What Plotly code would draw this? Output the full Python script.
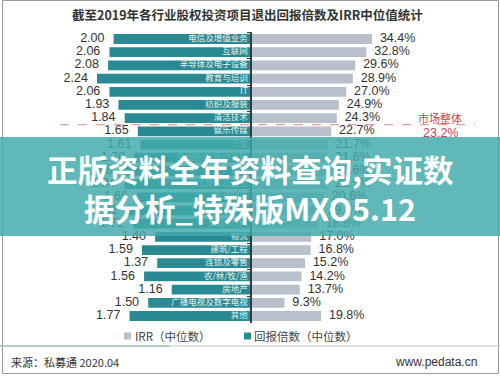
import plotly.graph_objects as go

# ---------------- data ----------------
industries = [
    "电信及增值业务", "互联网", "半导体及电子设备", "教育与培训", "IT", "纺织及服装", "清洁技术",
    "娱乐传媒", "汽车", "生物技术/医疗健康", "金融", "化工原料及加工", "机械制造", "能源及矿产",
    "食品&饮料", "物流", "建筑/工程", "连锁及零售", "农/林/牧/渔", "房地产", "广播电视及数字电视", "其他",
]
return_multiple = [2.00, 2.06, 2.08, 2.24, 2.06, 1.93, 1.84,
                   1.65, 1.61, 1.70, 1.88, 1.84, 1.66, 1.81,
                   1.72, 1.40, 1.59, 1.37, 1.56, 1.16, 1.50, 1.77]
irr = [34.4, 32.8, 29.6, 28.9, 27.0, 24.9, 24.3,
       22.7, 21.7, 21.6, 21.6, 21.5, 20.6, 19.4,
       18.8, 17.0, 16.8, 15.2, 14.2, 13.7, 9.3, 19.8]
market_irr = 23.2
market_after_index = 6  # market line sits after this row

TITLE = "截至2019年各行业股权投资项目退出回报倍数及IRR中位值统计"
SOURCE = "来源：私募通 2020.04"
SITE = "www.pedata.cn"
WM1 = "正版资料全年资料查询,实证数"
WM2 = "据分析_特殊版MXO5.12"

# ---------------- style ----------------
W, H = 500, 377
TEAL = "#2a8a93"
GRAY = "#b8c0cc"
CJK = "Noto Sans CJK SC"
LAT = "Liberation Sans, Arial, sans-serif"

axis_px = 252
left_px0 = 40
right_px1 = 490
px_per_mult = 69.2
px_per_pct = 3.49
row_top, row_bottom = 32.4, 322.6
n = len(industries)

fig = go.Figure()

fig.add_trace(go.Bar(
    y=industries, x=return_multiple, orientation="h",
    marker=dict(color=TEAL, line=dict(width=0)),
    xaxis="x", yaxis="y", name="回报倍数（中位数）", showlegend=False,
))
fig.add_trace(go.Bar(
    y=industries, x=irr, orientation="h",
    marker=dict(color=GRAY, line=dict(width=0)),
    xaxis="x2", yaxis="y", name="IRR（中位数）", showlegend=False,
))
# value labels left
fig.add_trace(go.Scatter(
    y=industries, x=return_multiple, mode="markers+text",
    text=[f"{v:.2f}" for v in return_multiple], textposition="middle left",
    marker=dict(size=13, color="rgba(0,0,0,0)"),
    textfont=dict(family=LAT, size=12.5, color="#333333"),
    xaxis="x", yaxis="y", cliponaxis=False, showlegend=False, hoverinfo="skip",
))
# value labels right
fig.add_trace(go.Scatter(
    y=industries, x=irr, mode="markers+text",
    text=[f"{v:.1f}%" for v in irr], textposition="middle right",
    marker=dict(size=11, color="rgba(0,0,0,0)"),
    textfont=dict(family=LAT, size=12.5, color="#333333"),
    xaxis="x2", yaxis="y", cliponaxis=False, showlegend=False, hoverinfo="skip",
))
# category labels inside left bars
fig.add_trace(go.Scatter(
    y=industries, x=[0] * n, mode="markers+text",
    text=industries, textposition="middle left",
    marker=dict(size=5, color="rgba(0,0,0,0)"),
    textfont=dict(family=CJK, size=8.5, color="#e3f1f1"),
    xaxis="x", yaxis="y", cliponaxis=False, showlegend=False, hoverinfo="skip",
))

shapes = []
# market dashed line
shapes.append(dict(type="line", xref="paper", yref="y", x0=60 / W, x1=475 / W,
                   y0=market_after_index + 0.5, y1=market_after_index + 0.5,
                   line=dict(color="#d98a8a", width=1, dash="dash"), layer="above"))
# frame border
shapes.append(dict(type="rect", xref="paper", yref="paper", x0=2.5 / W, x1=498.5 / W,
                   y0=1 - 373.5 / H, y1=1 - 0.5 / H, line=dict(color="#9a9a9a", width=1),
                   fillcolor="rgba(0,0,0,0)", layer="above"))
# footer separator
shapes.append(dict(type="line", xref="paper", yref="paper", x0=0, x1=1,
                   y0=1 - 346 / H, y1=1 - 346 / H, line=dict(color="#c4c4c4", width=1), layer="above"))
shapes.append(dict(type="line", xref="paper", yref="paper", x0=0, x1=170 / W,
                   y0=1 - 346 / H, y1=1 - 346 / H, line=dict(color="#86b6ba", width=1), layer="above"))
# legend swatches
shapes.append(dict(type="rect", xref="paper", yref="paper", x0=124 / W, x1=131 / W,
                   y0=1 - 339.5 / H, y1=1 - 332.5 / H, fillcolor=GRAY, line=dict(width=0), layer="above"))
shapes.append(dict(type="rect", xref="paper", yref="paper", x0=244 / W, x1=251 / W,
                   y0=1 - 339.5 / H, y1=1 - 332.5 / H, fillcolor=TEAL, line=dict(width=0), layer="above"))
# watermark band
shapes.append(dict(type="rect", xref="paper", yref="paper", x0=0, x1=1,
                   y0=1 - 236 / H, y1=1 - 137 / H, fillcolor="rgba(66,170,170,0.84)",
                   line=dict(width=0), layer="above"))

annotations = [
    dict(text=f"<b>{TITLE}</b>", xref="paper", yref="paper", x=247 / W, y=1 - 15 / H,
         xanchor="center", yanchor="middle", showarrow=False,
         font=dict(family=CJK, size=12.5, color="#333333")),
    dict(text="市场整体", xref="paper", yref="paper", x=440 / W, y=1 - 117.5 / H,
         xanchor="center", yanchor="middle", showarrow=False,
         font=dict(family=CJK, size=11, color="#cc4455")),
    dict(text=f"{market_irr:.1f}%", xref="paper", yref="paper", x=440 / W, y=1 - 133 / H,
         xanchor="center", yanchor="middle", showarrow=False,
         font=dict(family=LAT, size=12.5, color="#cc4455")),
    dict(text="IRR（中位数）", xref="paper", yref="paper", x=133 / W, y=1 - 336 / H,
         xanchor="left", yanchor="middle", showarrow=False,
         font=dict(family=CJK, size=11.5, color="#444444")),
    dict(text="回报倍数（中位数）", xref="paper", yref="paper", x=252 / W, y=1 - 336 / H,
         xanchor="left", yanchor="middle", showarrow=False,
         font=dict(family=CJK, size=11.5, color="#444444")),
    dict(text=SOURCE, xref="paper", yref="paper", x=9 / W, y=1 - 362 / H,
         xanchor="left", yanchor="middle", showarrow=False,
         font=dict(family=CJK, size=11, color="#333333")),
    dict(text=SITE, xref="paper", yref="paper", x=479 / W, y=1 - 362 / H,
         xanchor="right", yanchor="middle", showarrow=False,
         font=dict(family=LAT, size=12, color="#333333")),
    dict(text=f"<b>{WM1}</b>", xref="paper", yref="paper", x=250 / W, y=1 - 169 / H,
         xanchor="center", yanchor="middle", showarrow=False,
         font=dict(family=CJK, size=30.5, color="#ffffff")),
    dict(text=f"<b>{WM2}</b>", xref="paper", yref="paper", x=250 / W, y=1 - 208 / H,
         xanchor="center", yanchor="middle", showarrow=False,
         font=dict(family=CJK, size=30.5, color="#ffffff")),
]

fig.update_layout(
    width=W, height=H, autosize=False,
    margin=dict(l=0, r=0, t=0, b=0, pad=0),
    paper_bgcolor="white", plot_bgcolor="white",
    barmode="overlay", bargap=0.26,
    xaxis=dict(domain=[left_px0 / W, axis_px / W],
               range=[(axis_px - left_px0) / px_per_mult, 0],
               visible=False, fixedrange=True),
    xaxis2=dict(domain=[axis_px / W, right_px1 / W],
                range=[0, (right_px1 - axis_px) / px_per_pct],
                visible=False, fixedrange=True, anchor="y"),
    yaxis=dict(domain=[(H - row_bottom) / H, (H - row_top) / H],
               range=[n - 0.5, -0.5], anchor="x2", type="category",
               showline=True, linecolor="#2e3b40", linewidth=1.5,
               ticks="outside", tickson="boundaries", ticklen=3, tickcolor="#2e3b40",
               showticklabels=False, showgrid=False, zeroline=False),
    shapes=shapes, annotations=annotations, showlegend=False,
)

fig.write_html(
    "out.html",
    config={"displayModeBar": False},
    post_script="document.body.style.margin='0px';document.body.style.overflow='hidden';",
)
